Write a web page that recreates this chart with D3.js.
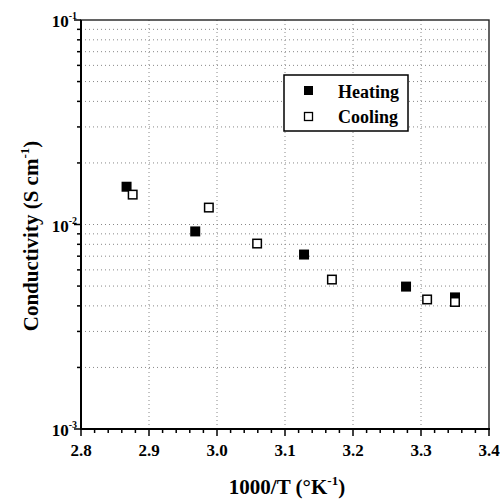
<!DOCTYPE html>
<html>
<head>
<meta charset="utf-8">
<script src="https://cdn.jsdelivr.net/npm/d3@7"></script>
<style>
  body { margin: 0; background: #fff; }
  text { font-family: "Liberation Serif", "Times New Roman", serif; font-weight: bold; }
</style>
</head>
<body>
<svg id="chart" width="500" height="500"></svg>
<script>
// heating run (filled squares)
let heatX = [2.867, 2.968, 3.128, 3.278, 3.350];
let heatY = [0.0153, 0.00925, 0.00713, 0.00497, 0.00440];
// cooling run (open squares)
let coolX = [2.876, 2.988, 3.059, 3.169, 3.309, 3.350];
let coolY = [0.0140, 0.0121, 0.00807, 0.00538, 0.00430, 0.00418];

let xTicks = [2.8, 2.9, 3.0, 3.1, 3.2, 3.3, 3.4];
let yDecades = [-3, -2, -1];

let svg = d3.select("#chart");
let plotL = 81, plotR = 489, plotT = 20, plotB = 429;

let x = d3.scaleLinear().domain([2.8, 3.4]).range([plotL, plotR]);
let y = d3.scaleLog().domain([1e-3, 1e-1]).range([plotB, plotT]);

// minor values for the log axis
let yMinor = [];
[1e-3, 1e-2].forEach(function(d) {
  for (let k = 2; k <= 9; k++) yMinor.push(d * k);
});
let xMinor = d3.range(0, 31).map(i => 2.8 + i * 0.02);

// grid
svg.append("g").selectAll("line")
  .data(xTicks.slice(1, -1)).enter().append("line")
  .attr("x1", d => x(d)).attr("x2", d => x(d))
  .attr("y1", plotT).attr("y2", plotB)
  .style("stroke", "#888").style("stroke-width", 1)
  .style("stroke-dasharray", "1,3");

svg.append("g").selectAll("line")
  .data(yMinor.concat([1e-2])).enter().append("line")
  .attr("x1", plotL).attr("x2", plotR)
  .attr("y1", d => y(d)).attr("y2", d => y(d))
  .style("stroke", "#888").style("stroke-width", 1)
  .style("stroke-dasharray", "1,3");

// frame
svg.append("rect")
  .attr("x", plotL).attr("y", plotT)
  .attr("width", plotR - plotL).attr("height", plotB - plotT)
  .style("fill", "none").style("stroke", "#222").style("stroke-width", 1.4);
svg.append("line")
  .attr("x1", plotL).attr("x2", plotL).attr("y1", plotT).attr("y2", plotB + 1)
  .style("stroke", "#000").style("stroke-width", 2);
svg.append("line")
  .attr("x1", plotL - 1).attr("x2", plotR + 1).attr("y1", plotB).attr("y2", plotB)
  .style("stroke", "#000").style("stroke-width", 2);

// x ticks
svg.append("g").selectAll("line")
  .data(xMinor).enter().append("line")
  .attr("x1", d => x(d)).attr("x2", d => x(d))
  .attr("y1", plotB)
  .attr("y2", (d, i) => plotB + (i % 5 == 0 ? 7 : 4))
  .style("stroke", "#000").style("stroke-width", 1.5);

svg.append("g").selectAll("text")
  .data(xTicks).enter().append("text")
  .attr("x", d => x(d)).attr("y", 456)
  .attr("text-anchor", "middle")
  .style("font-size", "17px")
  .text(d => d.toFixed(1));

// y ticks
svg.append("g").selectAll("line")
  .data(yMinor).enter().append("line")
  .attr("x1", plotL - 4).attr("x2", plotL)
  .attr("y1", d => y(d)).attr("y2", d => y(d))
  .style("stroke", "#000").style("stroke-width", 1.5);
svg.append("g").selectAll("line")
  .data(yDecades).enter().append("line")
  .attr("x1", plotL - 7).attr("x2", plotL)
  .attr("y1", d => y(Math.pow(10, d))).attr("y2", d => y(Math.pow(10, d)))
  .style("stroke", "#000").style("stroke-width", 1.5);

let yLab = svg.append("g").selectAll("text")
  .data(yDecades).enter().append("text")
  .attr("x", 77).attr("y", d => y(Math.pow(10, d)) + 7)
  .attr("text-anchor", "end")
  .style("font-size", "17px");
yLab.append("tspan").text("10");
yLab.append("tspan").attr("dy", -8).style("font-size", "10px").text(d => d);

// axis titles
let yt = svg.append("text")
  .attr("transform", "translate(38,236) rotate(-90)")
  .attr("text-anchor", "middle")
  .style("font-size", "21px");
yt.append("tspan").text("Conductivity (S cm");
yt.append("tspan").attr("dy", -9).style("font-size", "13px").text("-1");
yt.append("tspan").attr("dy", 9).text(")");

let xt = svg.append("text")
  .attr("x", 287).attr("y", 494)
  .attr("text-anchor", "middle")
  .style("font-size", "21px");
xt.append("tspan").text("1000/T (°K");
xt.append("tspan").attr("dy", -9).style("font-size", "13px").text("-1");
xt.append("tspan").attr("dy", 9).text(")");

// points
let size = 10;
svg.append("g").selectAll("rect")
  .data(d3.zip(heatX, heatY)).enter().append("rect")
  .attr("x", d => x(d[0]) - size / 2).attr("y", d => y(d[1]) - size / 2)
  .attr("width", size).attr("height", size)
  .style("fill", "#000");

svg.append("g").selectAll("rect")
  .data(d3.zip(coolX, coolY)).enter().append("rect")
  .attr("x", d => x(d[0]) - size / 2 + 0.75).attr("y", d => y(d[1]) - size / 2 + 0.75)
  .attr("width", size - 1.5).attr("height", size - 1.5)
  .style("fill", "#fff").style("stroke", "#000").style("stroke-width", 1.5);

// legend
let lg = svg.append("g");
lg.append("rect")
  .attr("x", 284).attr("y", 75).attr("width", 124).attr("height", 56)
  .style("fill", "#fff").style("stroke", "#000").style("stroke-width", 1.5);
lg.append("rect")
  .attr("x", 304).attr("y", 86).attr("width", 9).attr("height", 9)
  .style("fill", "#000");
lg.append("rect")
  .attr("x", 304.5).attr("y", 112.5).attr("width", 8).attr("height", 8)
  .style("fill", "#fff").style("stroke", "#000").style("stroke-width", 1.3);
lg.append("text").attr("x", 338).attr("y", 98).style("font-size", "18px").text("Heating");
lg.append("text").attr("x", 338).attr("y", 123).style("font-size", "18px").text("Cooling");
</script>
</body>
</html>
